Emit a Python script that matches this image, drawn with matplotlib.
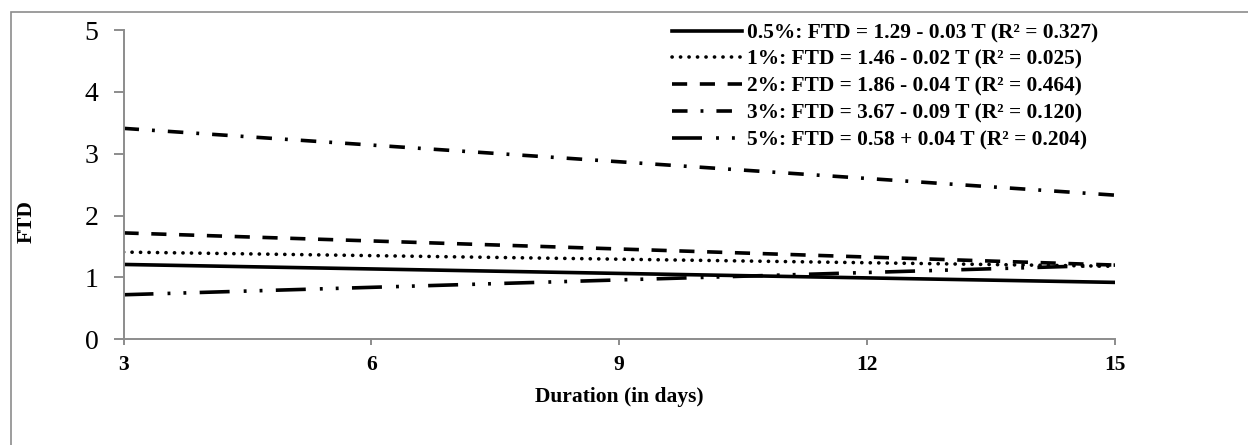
import matplotlib
matplotlib.use("Agg")
import matplotlib.pyplot as plt
from matplotlib.patches import Rectangle

# trend lines at the two ends of the duration range
duration = [3, 15]
ftd_05 = [1.21, 0.92]
ftd_1 = [1.41, 1.18]
ftd_2 = [1.72, 1.20]
ftd_3 = [3.41, 2.33]
ftd_5 = [0.72, 1.20]

labels = [
    "0.5%: FTD = 1.29 - 0.03 T (R² = 0.327)",
    "1%: FTD = 1.46 - 0.02 T (R² = 0.025)",
    "2%: FTD = 1.86 - 0.04 T (R² = 0.464)",
    "3%: FTD = 3.67 - 0.09 T (R² = 0.120)",
    "5%: FTD = 0.58 + 0.04 T (R² = 0.204)",
]
xticks = [3, 6, 9, 12, 15]
yticks = [0, 1, 2, 3, 4, 5]

plt.rcParams["font.family"] = ["Liberation Serif", "DejaVu Serif"]

W, H = 1248, 445
fig = plt.figure(figsize=(W / 100, H / 100), dpi=100)
ax = fig.add_axes([123.5 / W, 1 - 339.3 / H, (1115 - 123.5) / W, (339.3 - 30) / H])

lw = 2.6
styles = [
    dict(linestyle="-"),
    dict(dashes=(0.05, 2.3), dash_capstyle="round"),
    dict(dashes=(4.2, 3.5)),
    dict(dashes=(4.3, 3.6, 0.8, 3.6)),
    dict(dashes=(8.3, 3.9, 0.8, 3.6, 0.8, 3.7)),
]
series = [ftd_05, ftd_1, ftd_2, ftd_3, ftd_5]
for vals, lab, st in zip(series, labels, styles):
    ax.plot(duration, vals, color="black", lw=lw, label=lab, **st)

ax.set_xlim(3, 15)
ax.set_ylim(0, 5)
ax.set_xticks(xticks)
ax.set_yticks(yticks)
ax.set_xticklabels([str(v) for v in xticks], fontsize=15.5, fontweight="bold")
ax.set_yticklabels([str(v) for v in yticks], fontsize=20)

axis_grey = "#8c8c8c"
for s in ["top", "right"]:
    ax.spines[s].set_visible(False)
for s in ["left", "bottom"]:
    ax.spines[s].set_color(axis_grey)
    ax.spines[s].set_linewidth(1.4)
ax.tick_params(axis="y", length=7, width=1.4, color=axis_grey, pad=11)
ax.tick_params(axis="x", length=4.3, width=1.4, color=axis_grey, pad=7)

fig.text(619 / W, 1 - 397 / H, "Duration (in days)", ha="center", va="center",
         fontsize=15.5, fontweight="bold")
fig.text(27 / W, 1 - 222 / H, "FTD", ha="center", va="center", rotation=90,
         fontsize=15.5, fontweight="bold")

leg = ax.legend(loc="upper left", bbox_to_anchor=(672 / W, 1 - 23 / H),
                bbox_transform=fig.transFigure, frameon=False, borderpad=0,
                borderaxespad=0, handlelength=3.27, handletextpad=0.23,
                labelspacing=0.32, prop={"size": 15.4, "weight": "bold"})

# outer chart border (only top and left edges fall inside the image)
fig.patches.append(Rectangle((11 / W, -0.5), 2, 0.5 + 1 - 12 / H,
                             transform=fig.transFigure, fill=False,
                             edgecolor=axis_grey, lw=1.2))

fig.savefig("out.png", dpi=100)
